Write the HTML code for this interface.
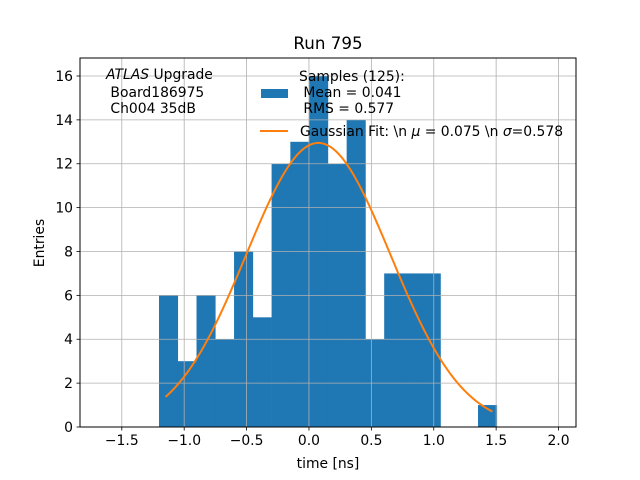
<!DOCTYPE html>
<html><head><meta charset="utf-8"><style>
body{margin:0;background:#fff}
svg{display:block;font-family:"DejaVu Sans","Liberation Sans",sans-serif}
</style></head><body>
<svg id="chart" width="640" height="480" viewBox="0 0 640 480" xmlns="http://www.w3.org/2000/svg">
<rect width="640" height="480" fill="#fff"/>
<g id="bars"></g>
<g id="grid"></g>
<g id="fit"></g>
<rect x="80" y="58" width="496" height="369" fill="none" stroke="#000" stroke-width="1"/>
<g id="xticks"></g>
<g id="yticks"></g>
<text x="328" y="49" font-size="16.7" text-anchor="middle">Run 795</text>
<text x="328" y="468" font-size="13.9" text-anchor="middle">time [ns]</text>
<text x="44" y="243" font-size="13.9" text-anchor="middle" transform="rotate(-90 44 243)">Entries</text>
<g font-size="13.9">
<text x="106" y="79"><tspan font-style="italic">ATLAS</tspan> Upgrade</text>
<text x="106" y="97">&#160;Board186975</text>
<text x="106" y="113">&#160;Ch004 35dB</text>
</g>
<g font-size="13.9">
<rect x="261" y="89" width="27" height="9" fill="#1f77b4"/>
<text x="299" y="81">Samples (125):</text>
<text x="299" y="97">&#160;Mean = 0.041</text>
<text x="299" y="113">&#160;RMS = 0.577</text>
<line x1="260" y1="131" x2="288" y2="131" stroke="#ff7f0e" stroke-width="2"/>
<text x="300" y="136">Gaussian Fit: \n <tspan font-style="italic">μ</tspan> = 0.075 \n <tspan font-style="italic">σ</tspan>=0.578</text>
</g>
</svg>
<script>
const binStart = -1.202;
const binWidth = 0.1504;
const counts = [6,3,6,4,8,5,12,13,16,12,14,4,7,7,7,0,0,1];
const fitMu = 0.075, fitSigma = 0.578, fitAmp = 12.95;
const fitRange = [-1.15, 1.47];
const xTicks = [-1.5,-1.0,-0.5,0.0,0.5,1.0,1.5,2.0];
const xTickLabels = ["−1.5","−1.0","−0.5","0.0","0.5","1.0","1.5","2.0"];
const yTicks = [0,2,4,6,8,10,12,14,16];

const NS="http://www.w3.org/2000/svg";
const X0=80,X1=576,Y0=58,Y1=427;
const xmin=-1.835,xmax=2.14,ymin=0,ymax=16.82;
const sx=v=>X0+(v-xmin)/(xmax-xmin)*(X1-X0);
const sy=v=>Y1-(v-ymin)/(ymax-ymin)*(Y1-Y0);
function mk(tag,attrs,parent){const e=document.createElementNS(NS,tag);for(const k in attrs)e.setAttribute(k,attrs[k]);parent.appendChild(e);return e;}
const grid=document.getElementById('grid'),bars=document.getElementById('bars'),fit=document.getElementById('fit');
const xt=document.getElementById('xticks'),yt=document.getElementById('yticks');
xTicks.forEach((t,i)=>{
  const x=sx(t);
  const g=mk('line',{x1:x,x2:x,y1:Y0,y2:Y1,stroke:'#b0b0b0','stroke-width':0.8},grid);
  
  
  const tk=mk('line',{x1:x,x2:x,y1:Y1,y2:Y1+3.5,stroke:'#000','stroke-width':0.8},xt);
  
  
  const l=mk('text',{x:x,y:Y1+18,'font-size':13.9,'text-anchor':'middle'},xt);
  l.textContent=xTickLabels[i];
  
  
});
yTicks.forEach(t=>{
  const y=sy(t);
  const g=mk('line',{x1:X0,x2:X1,y1:y,y2:y,stroke:'#b0b0b0','stroke-width':0.8},grid);
  
  
  const tk=mk('line',{x1:X0-3.5,x2:X0,y1:y,y2:y,stroke:'#000','stroke-width':0.8},yt);
  
  
  const l=mk('text',{x:X0-7,y:y+5,'font-size':13.9,'text-anchor':'end'},yt);
  l.textContent=String(t);
  
  
});
counts.forEach((c,i)=>{
  if(c<=0)return;
  const a=sx(binStart+i*binWidth),b=sx(binStart+(i+1)*binWidth);
  const r=mk('rect',{x:a,y:sy(c),width:b-a+0.3,height:sy(0)-sy(c),fill:'#1f77b4'},bars);
  
  
});
let d='';
for(let i=0;i<=200;i++){
  const x=fitRange[0]+(fitRange[1]-fitRange[0])*i/200;
  const y=fitAmp*Math.exp(-0.5*((x-fitMu)/fitSigma)**2);
  d+=(i?'L':'M')+sx(x).toFixed(2)+','+sy(y).toFixed(2);
}
const p=mk('path',{d:d,fill:'none',stroke:'#ff7f0e','stroke-width':2},fit);


</script>
</body></html>
